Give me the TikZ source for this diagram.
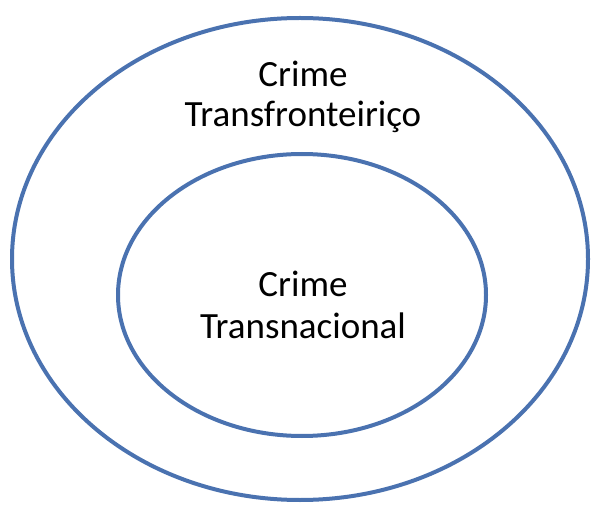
\documentclass[tikz,border=0pt]{standalone}
\usepackage{fontspec}
\setmainfont{Carlito}
\usetikzlibrary{shapes.geometric}
\definecolor{ringblue}{RGB}{74,114,176}
\begin{document}
\begin{tikzpicture}[x=1pt,y=-1pt,
  ring/.style={draw=ringblue,line width=4pt,ellipse,inner sep=0pt,outer sep=0pt},
  lbl/.style={align=center,font=\fontsize{37}{37}\selectfont,inner sep=0pt,anchor=base}]
\useasboundingbox (0,0) rectangle (592,505);
\node[ring,minimum width=576pt,minimum height=482pt] (outer) at (300,259) {};
\node[ring,minimum width=368pt,minimum height=282pt] (inner) at (302,295) {};
\node[lbl] (t1) at (303,87) {Crime};
\node[lbl] (t2) at (303,127) {Transfronteiriço};
\node[lbl] (t3) at (303,297) {Crime};
\node[lbl] (t4) at (303,338) {Transnacional};
\end{tikzpicture}
\end{document}
